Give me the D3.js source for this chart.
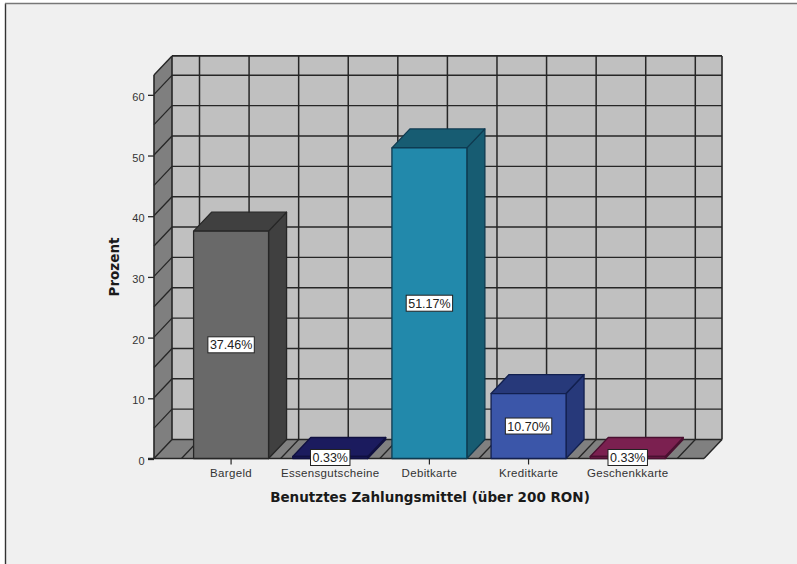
<!DOCTYPE html>
<html><head><meta charset="utf-8">
<script src="https://cdn.jsdelivr.net/npm/d3@7/dist/d3.min.js"></script>
<style>html,body{margin:0;padding:0;background:#fff}svg{display:block}text{font-family:"Liberation Sans",Arial,sans-serif}</style>
</head><body><svg id="c" width="797" height="564"></svg>
<script>
const categories = ["Bargeld","Essensgutscheine","Debitkarte","Kreditkarte","Geschenkkarte"];
const values = [37.46,0.33,51.17,10.70,0.33];
const valueLabels = ["37.46%","0.33%","51.17%","10.70%","0.33%"];
const frontColors = ["#696969","#1b1b5e","#2289ab","#3b56a9","#7b2050"];
const darkColors = ["#404040","#1b1b5e","#175c72","#27397a","#7b2050"];
const edgeColors = ["#262626","#101040","#0e3a50","#12204f","#4a1030"];
const yTicks = [0,10,20,30,40,50,60];
const yGrid = [5,10,15,20,25,30,35,40,45,50,55,60];
const yMax = 63.2;

const svg = d3.select("#c");
const dx = 18, dy = 19;
const y = d3.scaleLinear().domain([0,yMax]).range([458.5,74.9]);
const x = d3.scaleBand().domain(categories).range([181.5,677.3]).paddingInner(0.244).paddingOuter(0.122);
const cx = c => x(c)+x.bandwidth()/2;
const step = x.step();
const x0 = 154, x1 = 704;
const ink = "#262626";

svg.append("rect").attr("x",5).attr("y",3).attr("width",792).attr("height",561).attr("fill","#f0f0f0");
svg.append("path").attr("d","M5.5,564V3.5").attr("stroke","#333").attr("stroke-width",1.4).attr("fill","none");
svg.append("path").attr("d","M5,3.5H797").attr("stroke","#777").attr("stroke-width",1.4).attr("fill","none");

const poly = (pts,fill,stroke,w) => svg.append("path").attr("d","M"+pts.map(p=>p.join(",")).join("L")+"Z")
  .attr("fill",fill).attr("stroke",stroke||"none").attr("stroke-width",w||0).attr("stroke-linejoin","round");
const line = (a,b,w,col) => svg.append("line").attr("x1",a[0]).attr("y1",a[1]).attr("x2",b[0]).attr("y2",b[1])
  .attr("stroke",col||ink).attr("stroke-width",w||1.5);

// walls
poly([[x0+dx,y(yMax)-dy],[x1+dx,y(yMax)-dy],[x1+dx,y(0)-dy],[x0+dx,y(0)-dy]],"#c0c0c0");
poly([[x0,y(yMax)],[x0+dx,y(yMax)-dy],[x0+dx,y(0)-dy],[x0,y(0)]],"#7f7f7f");
poly([[x0,y(0)],[x0+dx,y(0)-dy],[x1+dx,y(0)-dy],[x1,y(0)]],"#808080");

// grid
yGrid.forEach(v=>{
  line([x0+dx,y(v)-dy],[x1+dx,y(v)-dy],1.4);
  line([x0,y(v)],[x0+dx,y(v)-dy],1.3);
});
const gridX = [];
categories.forEach(c=>{gridX.push(cx(c)-step/2,cx(c));});
gridX.push(cx(categories[4])+step/2);
gridX.forEach(g=>{
  line([g+dx,y(yMax)-dy],[g+dx,y(0)-dy],1.5);
  line([g+dx,y(0)-dy],[g,y(0)],1.3);
});
// wall outlines
line([x0+dx,y(yMax)-dy],[x1+dx,y(yMax)-dy],1.6);
line([x0+dx,y(yMax)-dy],[x0+dx,y(0)-dy],1.6);
line([x1+dx,y(yMax)-dy],[x1+dx,y(0)-dy],1.6);
line([x0+dx,y(0)-dy],[x1+dx,y(0)-dy],1.6);
line([x0,y(yMax)],[x0+dx,y(yMax)-dy],1.4);
line([x0,y(0)],[x0+dx,y(0)-dy],1.4);
line([x1,y(0)],[x1+dx,y(0)-dy],1.4);

// axes
const yAxis = d3.axisLeft(y).tickValues(yTicks).tickSize(6).tickFormat(d3.format("d"));
const gy = svg.append("g").attr("transform",`translate(${x0},0.5)`).call(yAxis);
gy.select(".domain").remove();
gy.selectAll("text").attr("font-size",11).attr("fill","#333").attr("dy","0.5em").attr("letter-spacing",0.3);
gy.selectAll("line").attr("stroke",ink).attr("stroke-width",1.3);
line([x0,y(yMax)],[x0,y(0)],1.6);
line([x0-6,y(0)],[x1,y(0)],1.6);

const xAxis = d3.axisBottom(x).tickSize(6).tickPadding(4);
const gx = svg.append("g").attr("transform",`translate(0,${y(0)})`).call(xAxis);
gx.select(".domain").remove();
gx.selectAll("text").attr("font-size",11.5).attr("fill","#333").attr("letter-spacing",0.33);
gx.selectAll("line").attr("stroke",ink).attr("stroke-width",1.2);

// bars
categories.forEach((c,i)=>{
  const l=x(c), r=l+x.bandwidth(), t=y(values[i]), b=y(0);
  poly([[r,t],[r+dx,t-dy],[r+dx,b-dy],[r,b]],darkColors[i],edgeColors[i],1.3);
  poly([[l,t],[l+dx,t-dy],[r+dx,t-dy],[r,t]],darkColors[i],edgeColors[i],1.3);
  poly([[l,t],[r,t],[r,b],[l,b]],frontColors[i],edgeColors[i],1.3);
});

// value labels
categories.forEach((c,i)=>{
  const my=(y(values[i])+y(0))/2;
  const g=svg.append("g").attr("transform",`translate(${cx(c)},${my})`);
  const t=g.append("text").attr("text-anchor","middle").attr("dy","0.36em").attr("font-size",12.5).attr("fill","#222").text(valueLabels[i]);
  const w=t.node().getComputedTextLength()+4;
  g.insert("rect","text").attr("x",-w/2).attr("y",-8).attr("width",w).attr("height",16)
    .attr("fill","#fff").attr("stroke","#222").attr("stroke-width",1);
});

// titles
svg.append("text").attr("x",430).attr("y",502).attr("text-anchor","middle").style("font-family","'DejaVu Sans'")
  .attr("font-size",13.5).attr("font-weight","bold").attr("fill","#1a1a1a").text("Benutztes Zahlungsmittel (über 200 RON)");
svg.append("text").attr("transform","translate(118.5,267) rotate(-90)").attr("text-anchor","middle").style("font-family","'DejaVu Sans'")
  .attr("font-size",13.5).attr("font-weight","bold").attr("fill","#1a1a1a").text("Prozent");
</script></body></html>
